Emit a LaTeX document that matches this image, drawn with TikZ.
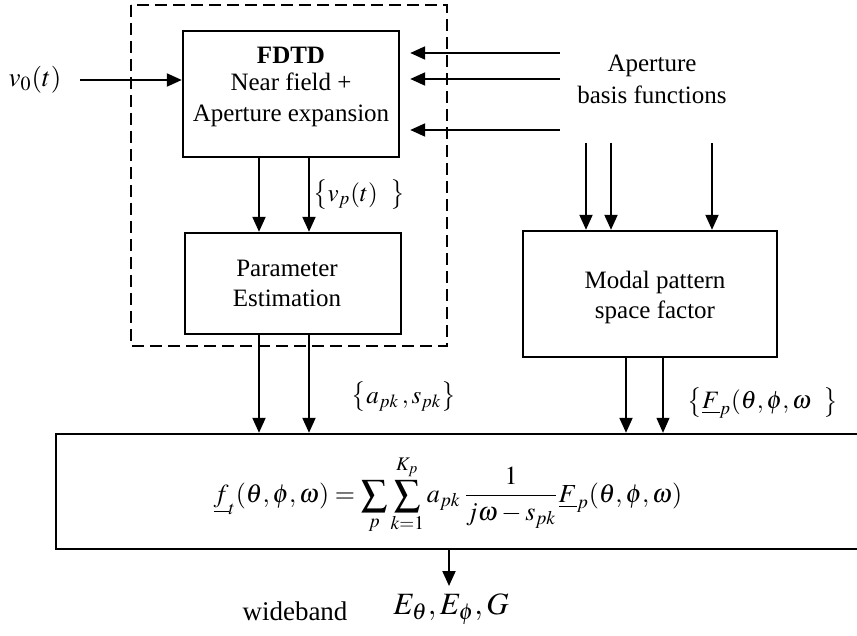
\documentclass[tikz,border=0pt]{standalone}
\usepackage{mathptmx}
\usepackage[no-math]{fontspec}
\setmainfont{Liberation Serif}
\usetikzlibrary{arrows.meta,calc}
\tikzset{
  box/.style={draw, line width=1.2pt, inner sep=0pt},
  grp/.style={draw, dashed, line width=1pt, dash pattern=on 6pt off 3pt},
  arr/.style={-{Triangle[length=7.5pt,width=6.5pt]}, line width=1pt},
  thinarr/.style={-{Triangle[length=7.5pt,width=6.5pt]}, line width=0.6pt},
  txt/.style={inner sep=0pt, font=\fontsize{12.5}{15}\selectfont},
  bigtxt/.style={inner sep=0pt, font=\fontsize{13.5}{16}\selectfont}
}
\begin{document}
\begin{tikzpicture}[x=0.5pt,y=-0.5pt]
\useasboundingbox (0,0) rectangle (857,636);
\clip (0,0) rectangle (857,636);
% group
\draw[grp] (131,5) rectangle (447,346);
% boxes
\node[box, minimum width=108pt, minimum height=63pt] (fdtd) at (291,94) {};
\node[box, minimum width=108pt, minimum height=50.5pt] (param) at (293,283.5) {};
\node[box, minimum width=127pt, minimum height=63pt] (modal) at (650,294) {};
\node[box, minimum width=405.5pt, minimum height=57.5pt] (out) at (461.5,491.5) {};
% texts
\node[txt] (t1) at (291,55) {\textbf{FDTD}};
\node[txt] (t2) at (291,82) {Near field +};
\node[txt] (t3) at (291,116) {Aperture expansion};
\node[txt] (t4) at (287,268) {Parameter};
\node[txt] (t5) at (287,298) {Estimation};
\node[txt] (t6) at (655,282) {Modal pattern};
\node[txt] (t7) at (655,312) {space factor};
\node[txt] (ap1) at (652,66) {Aperture};
\node[txt] (ap2) at (652,95) {basis functions};
\node[bigtxt] (v0) at (35,80) {$v_0(t)$};
\node[txt] (vp) at (359,195) {$\left\{v_p(t)\ \ \right\}$};
\node[txt] (apk) at (404,397) {$\left\{a_{pk}\,,s_{pk}\right\}$};
\node[txt] (Fp) at (763,403) {$\left\{\underline{F}_p(\theta,\phi,\omega\ \ \right\}$};
\node[txt, font=\fontsize{13}{15}\selectfont] (form) at (448,495) {$\displaystyle \underline{f}_t(\theta,\phi,\omega)=\sum_p\sum_{k=1}^{K_p} a_{pk}\,\frac{1}{j\omega-s_{pk}}\underline{F}_p(\theta,\phi,\omega)$};
\node[bigtxt] (wb) at (295,611) {wideband};
\node[txt, font=\fontsize{15.5}{18}\selectfont] (E) at (451,609) {$E_\theta,E_\phi,G$};
% input arrow
\coordinate (v0s) at (80,80);
\draw[arr] (v0s) -- (v0s -| fdtd.west);
% aperture arrows
\coordinate (a1) at (560,53);
\coordinate (a2) at (560,79);
\coordinate (a3) at (560,130);
\foreach \c in {a1,a2,a3}
  \draw[arr] (\c) -- ([xshift=5pt]\c -| fdtd.east);
% vertical to modal
\coordinate (b1) at (586,143);
\coordinate (b2) at (611,143);
\coordinate (b3) at (712,143);
\foreach \c in {b1,b2,b3}
  \draw[arr] (\c) -- (\c |- modal.north);
% fdtd to param
\draw[arr] ([xshift=-16pt]fdtd.south) -- ([xshift=-16pt]fdtd.south |- param.north);
\draw[arr] ([xshift=9pt]fdtd.south) -- ([xshift=9pt]fdtd.south |- param.north);
% param to out
\draw[arr] ([xshift=-17pt]param.south) -- ([xshift=-17pt]param.south |- out.north);
\draw[arr] ([xshift=8pt]param.south) -- ([xshift=8pt]param.south |- out.north);
% modal to out
\draw[arr] ([xshift=-12pt]modal.south) -- ([xshift=-12pt]modal.south |- out.north);
\draw[thinarr] ([xshift=6.5pt]modal.south) -- ([xshift=6.5pt]modal.south |- out.north);
% output
\coordinate (oe) at (449,586);
\draw[arr] (oe |- out.south) -- (oe);
\end{tikzpicture}
\end{document}
